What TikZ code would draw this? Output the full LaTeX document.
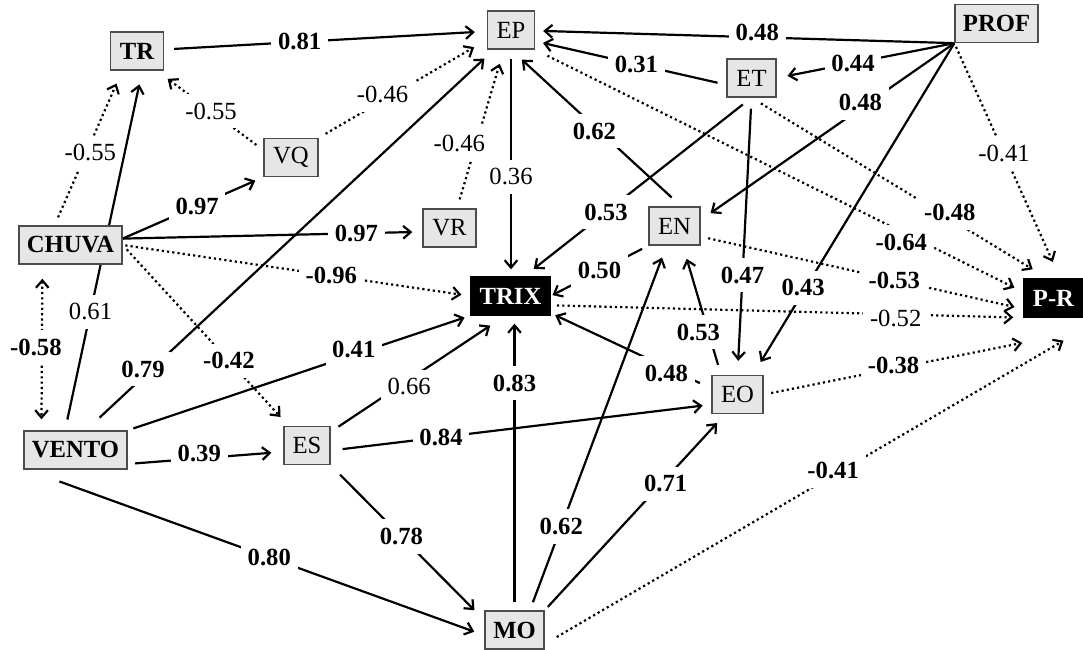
\documentclass[tikz,border=0pt]{standalone}
\usepackage{fontspec}
\setmainfont{Liberation Serif}
\usetikzlibrary{arrows.meta}
\pgfdeclarelayer{bg}
\pgfsetlayers{bg,main}
\definecolor{boxgray}{RGB}{230,230,230}
\newcommand{\myfs}{\fontsize{18.5pt}{21pt}\selectfont}
\tikzset{
  >={Straight Barb[length=5.6pt,width=9.5pt]},
  box/.style={draw=black!70, line width=1pt, fill=boxgray, minimum height=28.5pt, inner sep=0pt, font=\myfs},
  bbox/.style={box, font=\myfs\bfseries},
  kbox/.style={draw=black, line width=1pt, fill=black, text=white, minimum height=28.5pt, inner sep=0pt, font=\myfs\bfseries},
  sol/.style={line width=1.65pt, ->},
  dot/.style={sol, dash pattern=on 1.65pt off 2.3pt},
  lb/.style={fill=white, inner xsep=5pt, inner ysep=6.5pt, font=\myfs\bfseries},
  lr/.style={lb, font=\myfs},
}
\begin{document}
\begin{tikzpicture}[x=0.75pt, y=-0.75pt]
\useasboundingbox (0,0) rectangle (1083,650);
\begin{pgfonlayer}{bg}
\fill[white] (0,0) rectangle (1083,650);
\end{pgfonlayer}
% nodes
\node[bbox, minimum width=39.75pt] (TR) at (137,51) {TR};
\node[box, minimum width=35.25pt] (EP) at (511,30) {EP};
\node[bbox, minimum width=62.25pt] (PROF) at (996.5,23.5) {PROF};
\node[box, minimum width=36.75pt] (ET) at (751.5,78) {ET};
\node[box, minimum width=40.5pt] (VQ) at (291,157.5) {VQ};
\node[bbox, minimum width=77.25pt] (CHUVA) at (70.5,245) {CHUVA};
\node[box, minimum width=39.75pt] (VR) at (449.5,228) {VR};
\node[box, minimum width=38.25pt] (EN) at (674.5,226) {EN};
\node[kbox, minimum width=59.25pt] (TRIX) at (510.5,296) {TRIX};
\node[kbox, minimum width=44.25pt] (PR) at (1053.5,298) {P-R};
\node[box, minimum width=38.25pt] (EO) at (737.5,394.5) {EO};
\node[bbox, minimum width=77.25pt] (VENTO) at (75.5,450) {VENTO};
\node[box, minimum width=34.5pt] (ES) at (307,445.5) {ES};
\node[bbox, minimum width=44.25pt] (MO) at (514.5,630) {MO};
% connectors
\begin{pgfonlayer}{bg}
\draw[sol, shorten <=7.5pt, shorten >=9pt] (TR) -- node[lb,pos=.42]{0.81} (EP);
\draw[sol, shorten >=6pt] (PROF.south west) -- node[lb,pos=.47,yshift=3.75pt]{0.48} (EP);
\draw[sol, shorten <=6.75pt, shorten >=6pt] (ET.195) -- node[lb,pos=.47]{0.31} (EP.-25);
\draw[sol, shorten >=8.25pt] (PROF.south west) -- node[lb,pos=.57]{0.44} (ET.east);
\draw[sol, shorten >=9pt] (PROF.south west) -- node[lb,pos=.37,yshift=4.5pt]{0.48} (EN.13);
\draw[sol, shorten >=11.25pt] (PROF.south west) -- node[lb,pos=.75,yshift=3pt]{0.43} (EO.52);
\draw[dot, shorten <=3pt, shorten >=13.5pt] (PROF.south west) -- node[lr,pos=.47]{-0.41} (PR.71);
\draw[dot, shorten <=6.5pt, shorten >=10.5pt] (CHUVA.129) -- node[lr,pos=.47,xshift=3pt]{-0.55} (TR.233);
\draw[sol, shorten <=8.25pt, shorten >=10.5pt] (VENTO.118) -- node[lr,pos=.33]{0.61} (TR.-75);
\draw[dot, shorten <=6.5pt, shorten >=10.25pt] (VQ.165) -- node[lr,pos=.49]{-0.55} (TR.-45);
\draw[dot, shorten <=6pt, shorten >=11pt] (VQ.north east) -- node[lr,pos=.38,yshift=4.5pt]{-0.46} (EP.202);
\draw[sol, shorten >=6.5pt] (CHUVA.7) -- node[lb,pos=.53]{0.97} (VQ.south west);
\draw[sol, shorten >=7.5pt] (CHUVA.7) -- node[lb,pos=.78]{0.97} (VR.188);
\draw[dot, shorten <=7pt, shorten >=11pt] (VR.69) -- node[lr,pos=.41,xshift=-12.75pt]{-0.46} (EP.250);
\draw[dot, shorten <=2pt, shorten >=6.75pt] (CHUVA.east) -- node[lb,pos=.6]{-0.96} (TRIX.west);
\draw[dot, shorten <=4.5pt, shorten >=9pt] (CHUVA.east) -- node[lb,pos=.64]{-0.42} (ES.133);
\draw[sol, shorten <=14pt, shorten >=9.75pt] (VENTO.62) -- node[lb,pos=.14,yshift=6pt]{0.79} (EP.229);
\draw[sol, shorten <=4.5pt, shorten >=4.5pt] (VENTO.north east) -- node[lb,pos=.66,yshift=3.75pt]{0.41} (TRIX.south west);
\draw[sol, shorten <=5.5pt, shorten >=9pt] (VENTO.-15) -- node[lb,pos=.46,yshift=3.75pt]{0.39} (ES.195);
\draw[sol, shorten <=26pt, shorten >=8pt] (VENTO.202) -- node[lb,pos=.53]{0.80} (MO.190);
\draw[dot, <->, shorten <=10.5pt, shorten >=8.25pt] (CHUVA.215) -- node[lb,pos=.5,xshift=-4.5pt]{-0.58} (VENTO.150);
\draw[sol, shorten <=6.75pt, shorten >=5.25pt] (EP.south) -- node[lr,pos=.56]{0.36} (EP.south |- TRIX.north);
\draw[sol, shorten <=9.75pt, shorten >=11pt] (EN.71) -- node[lb,pos=.51,yshift=-3.75pt]{0.62} (EP.south);
\draw[sol, shorten <=8.25pt, shorten >=9pt] (ET.south) -- node[lb,pos=.64]{0.53} (TRIX.55);
\draw[sol, shorten <=5.25pt, shorten >=1.5pt] (EN.south west) -- node[lb,pos=.5]{0.50} (TRIX.east);
\draw[dot, shorten <=10.25pt, shorten >=7.5pt] (EP.south east) -- node[lb,pos=.75,yshift=-8.25pt]{-0.64} (PR.169);
\draw[dot, shorten <=8.25pt, shorten >=13pt] (ET.south) -- node[lb,pos=.67,yshift=4.5pt]{-0.48} (PR.107);
\draw[dot, shorten <=5.75pt, shorten >=6.75pt] (EN.-22) -- node[lb,pos=.6]{-0.53} (PR.200);
\draw[dot, shorten <=4.75pt, shorten >=7.5pt] (TRIX.-13) -- node[lr,pos=.73,yshift=-3pt]{-0.52} (PR.south west);
\draw[dot, shorten <=5.75pt, shorten >=0.75pt] (EO.east) -- node[lb,pos=.5,yshift=2.25pt]{-0.38} ([yshift=-18.75pt]PR.south west);
\draw[dot, shorten <=10.5pt] (MO.-25) -- node[lb,pos=.556,yshift=3.5pt]{-0.41} ([xshift=7.5pt,yshift=-17.25pt]PR.south);
\draw[sol, shorten <=8.25pt, shorten >=10.5pt] (ET.south) -- node[lb,pos=.64]{0.47} (EO.north);
\draw[sol, shorten <=7.75pt, shorten >=10.25pt] (EO.130) -- node[lb,pos=.33,xshift=-7.5pt]{0.53} (EN.293);
\draw[sol, shorten <=9.5pt, shorten >=3.75pt] (EO.167) -- node[lb,pos=.28,yshift=-4.5pt]{0.48} (TRIX.-23);
\draw[sol, shorten <=7pt, shorten >=13.5pt] (ES.30) -- node[lr,pos=.45,yshift=-5.25pt]{0.66} (TRIX.255);
\draw[sol, shorten <=9pt, shorten >=6.5pt] (ES.-12) -- node[lb,pos=.29]{0.84} (EO.201);
\draw[sol, shorten <=10pt, shorten >=10.5pt] (ES.south east) -- node[lb,pos=.46]{0.78} (MO.162);
\draw[sol, shorten <=6pt, shorten >=6pt] (MO.north) -- node[lb,pos=.77]{0.83} (MO.north |- TRIX.south);
\draw[sol, shorten <=6.5pt, shorten >=9.5pt] (MO.52) -- node[lb,pos=.23]{0.62} (EN.248);
\draw[sol, shorten <=3.5pt, shorten >=9pt] (MO.north east) -- node[lb,pos=.67,yshift=-3.75pt]{0.71} (EO.238);
\end{pgfonlayer}
\end{tikzpicture}
\end{document}
